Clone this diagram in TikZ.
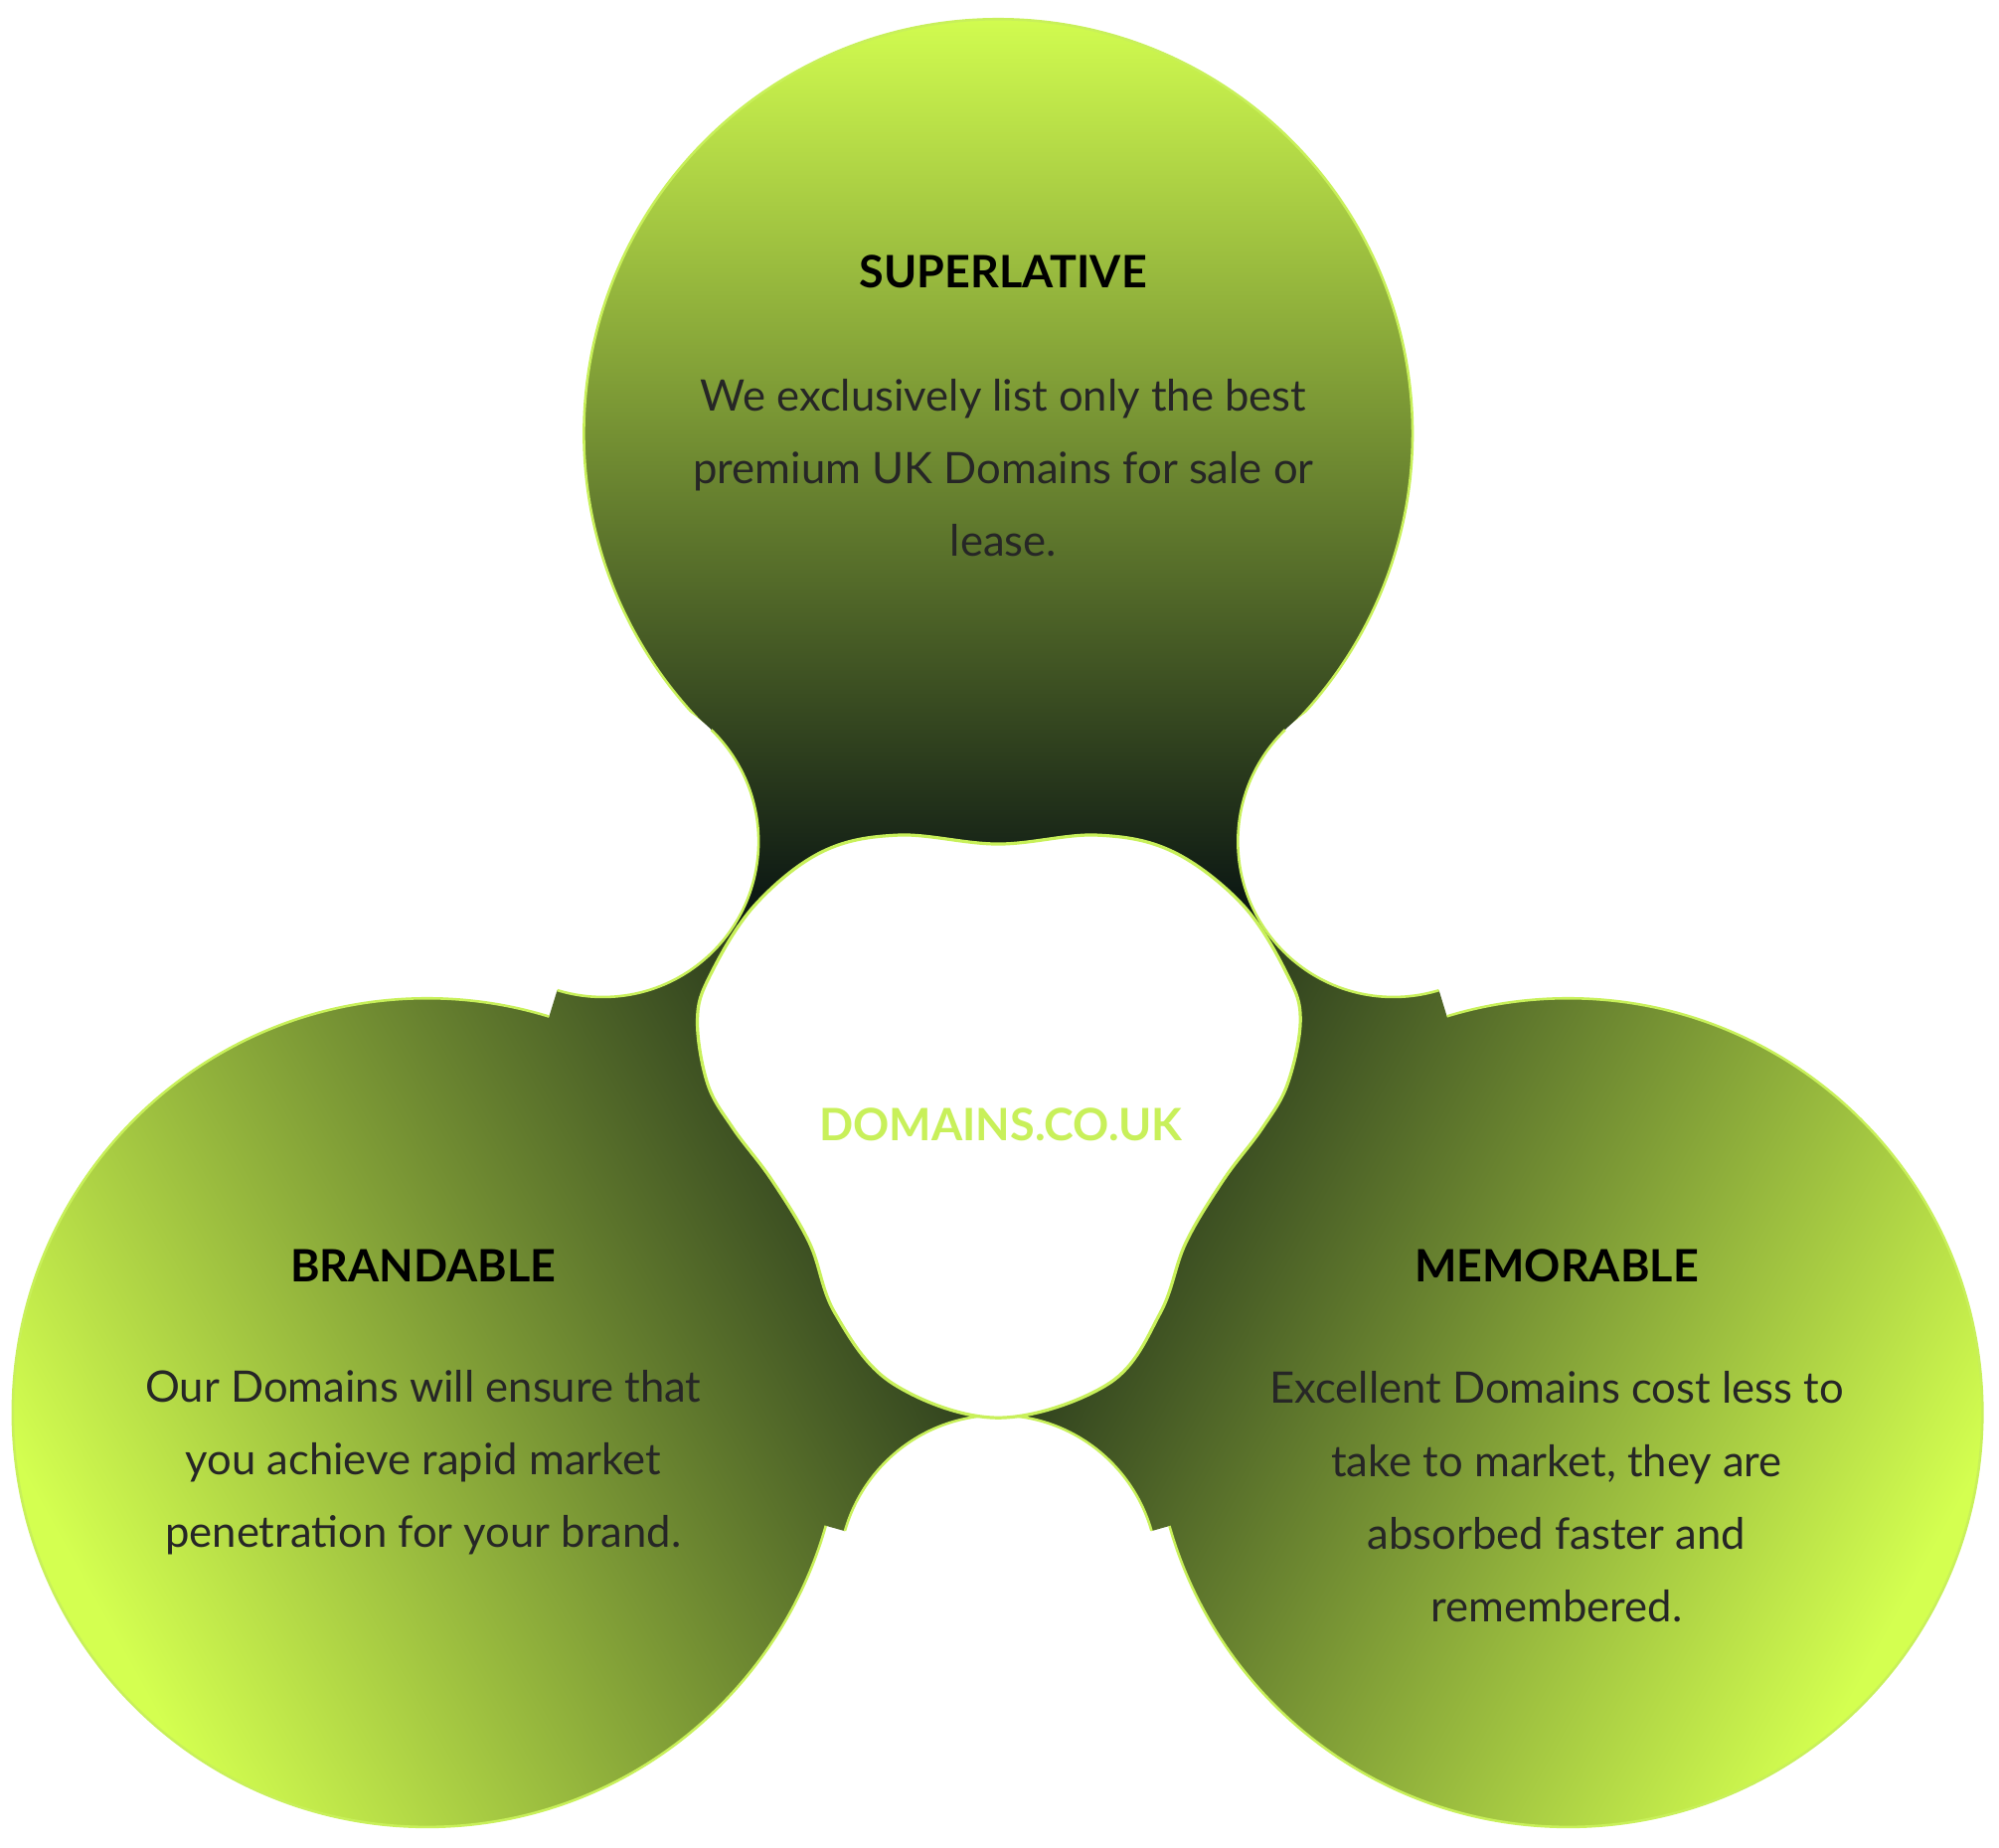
\documentclass[tikz,border=0pt]{standalone}
\usepackage{fontspec}
\usetikzlibrary{calc}
\setmainfont{Lato}
\definecolor{lime}{HTML}{D4FF50}
\definecolor{midg}{HTML}{7E9E33}
\definecolor{dark}{HTML}{0E1A14}
\definecolor{edge}{HTML}{C8F05A}
\begin{document}
\begin{tikzpicture}[x=1pt,y=-1pt,
  head/.style={font=\fontsize{35}{40}\selectfont\bfseries, text=black},
  body/.style={font=\fontsize{34}{57}\selectfont, text=black!85, align=center}]
\useasboundingbox (0,0) rectangle (1568,1449);
\coordinate (T) at (783,340);
\coordinate (L) at (335,1108);
\coordinate (R) at (1230,1108);
\coordinate (C) at (783,852);
\coordinate (N1) at (473,660);
\coordinate (N2) at (1093,660);
\coordinate (N3) at (783,1235);
\def\ra{122}\def\rb{125}
\coordinate (a1) at ($(N1)!\ra pt!(T)$);
\coordinate (b1) at ($(N1)!\ra pt!(L)$);
\coordinate (a2) at ($(N2)!\ra pt!(T)$);
\coordinate (c2) at ($(N2)!\ra pt!(R)$);
\coordinate (b3) at ($(N3)!\rb pt!(L)$);
\coordinate (c3) at ($(N3)!\rb pt!(R)$);
\def\hub{(T)--(a1)--(b1)--(L)--(b3)--(c3)--(R)--(c2)--(a2)--cycle}
% top lobe
\begin{scope}
  \clip (T) circle (325);
  \shade[top color=lime, middle color=midg!85!dark, bottom color=dark] (440,5) rectangle (1125,700);
\end{scope}
\begin{scope}
  \clip (C)--(N1)--(141,448)--(141,-100)--(1425,-100)--(1425,448)--(N2)--cycle;
  \clip \hub;
  \shade[top color=lime, middle color=midg!85!dark, bottom color=dark] (440,5) rectangle (1125,700);
  \fill[dark] (100,699) rectangle (1500,1200);
\end{scope}
% bottom left lobe
\begin{scope}
  \clip (L) circle (325);
  \shade[top color=lime, middle color=midg, bottom color=dark, shading angle=119] (5,640) rectangle (840,1440);
\end{scope}
\begin{scope}
  \clip (C)--(N1)--(141,448)--(-300,448)--(-300,1700)--(783,1700)--(N3)--cycle;
  \clip \hub;
  \shade[top color=lime, middle color=midg, bottom color=dark, shading angle=119] (5,640) rectangle (840,1440);
\end{scope}
% bottom right lobe
\begin{scope}
  \clip (R) circle (325);
  \shade[top color=lime, middle color=midg, bottom color=dark, shading angle=241] (728,640) rectangle (1563,1440);
\end{scope}
\begin{scope}
  \clip (C)--(N2)--(1425,448)--(1900,448)--(1900,1700)--(783,1700)--(N3)--cycle;
  \clip \hub;
  \shade[top color=lime, middle color=midg, bottom color=dark, shading angle=241] (728,640) rectangle (1563,1440);
\end{scope}
% outer outlines
\begin{scope}[even odd rule]
  \clip (-10,-10) rectangle (1578,1459) \hub;
  \draw[edge, line width=2] (T) circle (325) (L) circle (325) (R) circle (325);
\end{scope}
% notches
\fill[white] (N1) circle (\ra) (N2) circle (\ra) (N3) circle (\rb);
\begin{scope}
  \clip \hub;
  \draw[edge, line width=2] (N1) circle (\ra) (N2) circle (\ra) (N3) circle (\rb);
\end{scope}
% center blob
\draw[edge, line width=2.5, fill=white] plot[smooth cycle, tension=0.6] coordinates {
(783,662) (860,655) (920,668) (975,710) (1010,765) (1020,800) (1010,850) (990,885)
(960,925) (930,975) (910,1030) (870,1085) (783,1112) (700,1085) (655,1030) (635,975)
(605,925) (575,885) (555,850) (547,800) (557,765) (592,710) (645,668) (705,655)};
\node[font=\fontsize{35}{40}\selectfont\bfseries, text=edge] (ctr) at (785,882) {DOMAINS.CO.UK};
% texts
\node[head] (h1) at (787,213) {SUPERLATIVE};
\node[body] (b1) at (787,367) {We exclusively list only the best\\premium UK Domains for sale or\\lease.};
\node[head] (h2) at (332,993) {BRANDABLE};
\node[body] (b2) at (332,1147) {Our Domains will ensure that\\you achieve rapid market\\penetration for your brand.};
\node[head] (h3) at (1221,993) {MEMORABLE};
\node[body] (b3) at (1221,1174) {Excellent Domains cost less to\\take to market, they are\\absorbed faster and\\remembered.};
\end{tikzpicture}
\end{document}
